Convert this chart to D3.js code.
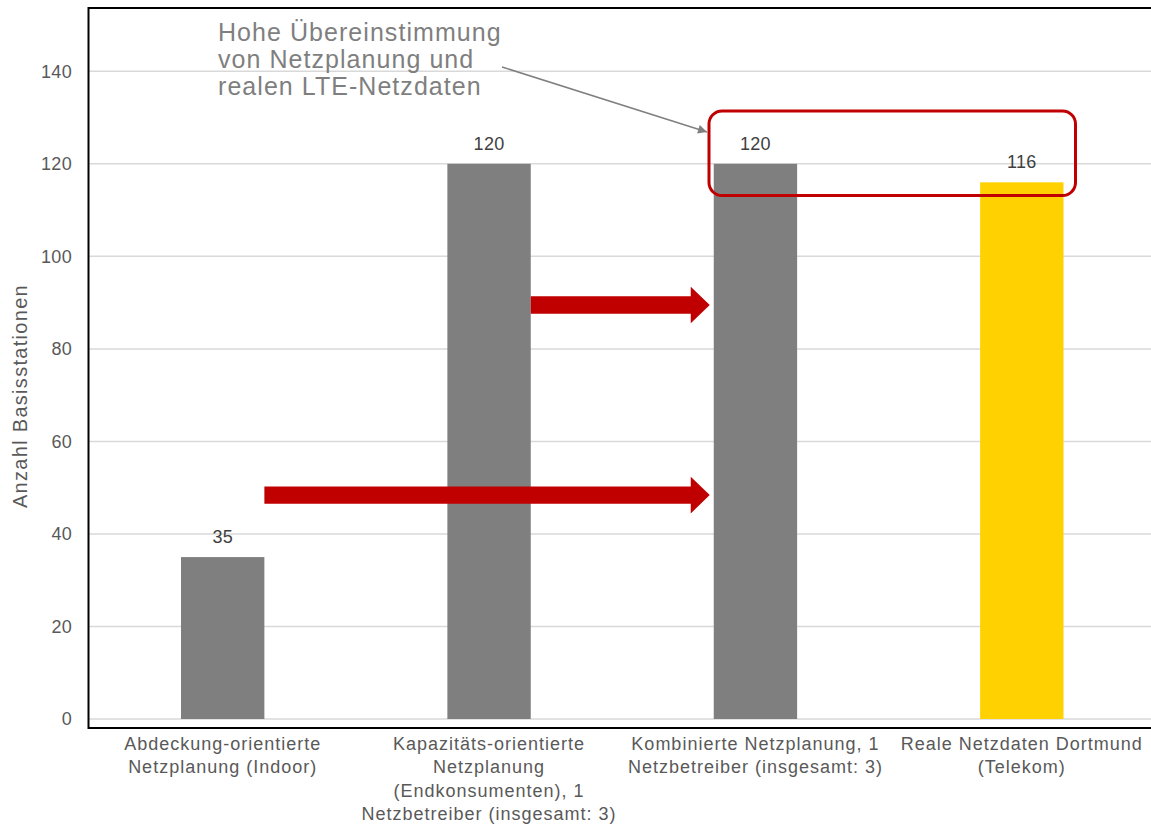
<!DOCTYPE html>
<html>
<head>
<meta charset="utf-8">
<script src="https://cdn.jsdelivr.net/npm/d3@7"></script>
<style>
  html, body { margin: 0; padding: 0; background: #ffffff; }
  svg { display: block; font-family: "Liberation Sans", Arial, sans-serif; }
</style>
</head>
<body>
<svg id="chart" width="1151" height="825"></svg>
<script>
// Base station counts per planning approach
const categories = [
  ["Abdeckung-orientierte", "Netzplanung (Indoor)"],
  ["Kapazitäts-orientierte", "Netzplanung", "(Endkonsumenten), 1", "Netzbetreiber (insgesamt: 3)"],
  ["Kombinierte Netzplanung, 1", "Netzbetreiber (insgesamt: 3)"],
  ["Reale Netzdaten Dortmund", "(Telekom)"]
];
const values = [35, 120, 120, 116];
const barColors = ["#7f7f7f", "#7f7f7f", "#7f7f7f", "#ffd100"];
const yTicks = [0, 20, 40, 60, 80, 100, 120, 140];
const yTitle = "Anzahl Basisstationen";
const calloutLines = ["Hohe Übereinstimmung", "von Netzplanung und", "realen LTE-Netzdaten"];

const svg = d3.select("#chart");

const x = d3.scaleBand()
  .domain(d3.range(values.length))
  .range([89.5, 1155])
  .paddingInner(0.687)
  .paddingOuter(0.3435);

const y = d3.scaleLinear().domain([0, 140]).range([719, 71.3]);

// gridlines
svg.append("g")
  .selectAll("line")
  .data(yTicks)
  .join("line")
  .attr("x1", 89).attr("x2", 1151)
  .attr("y1", d => y(d)).attr("y2", d => y(d))
  .attr("stroke", "#d9d9d9").attr("stroke-width", 1.5);

// y tick labels
svg.append("g")
  .selectAll("text")
  .data(yTicks)
  .join("text")
  .attr("x", 72).attr("y", d => y(d))
  .attr("dy", "0.35em")
  .attr("text-anchor", "end")
  .attr("font-size", 18)
  .attr("letter-spacing", 0.3)
  .attr("fill", "#595959")
  .text(d => d);

// y axis title
svg.append("text")
  .attr("transform", `translate(27, ${396}) rotate(-90)`)
  .attr("text-anchor", "middle")
  .attr("font-size", 20)
  .attr("letter-spacing", 1.3)
  .attr("fill", "#595959")
  .text(yTitle);

// bars
svg.append("g")
  .selectAll("rect")
  .data(values)
  .join("rect")
  .attr("x", (d, i) => x(i))
  .attr("width", x.bandwidth())
  .attr("y", d => y(d))
  .attr("height", d => y(0) - y(d))
  .attr("fill", (d, i) => barColors[i]);

// value labels
svg.append("g")
  .selectAll("text")
  .data(values)
  .join("text")
  .attr("x", (d, i) => x(i) + x.bandwidth() / 2)
  .attr("y", d => y(d) - 14)
  .attr("text-anchor", "middle")
  .attr("font-size", 18)
  .attr("letter-spacing", 0.3)
  .attr("fill", "#404040")
  .text(d => d);

// plot frame
svg.append("path")
  .attr("d", "M1160,8 H88.5 V728 H1160")
  .attr("fill", "none")
  .attr("stroke", "#000")
  .attr("stroke-width", 2);

// category labels
const catG = svg.append("g");
categories.forEach((lines, i) => {
  const t = catG.append("text")
    .attr("x", x(i) + x.bandwidth() / 2)
    .attr("y", 750)
    .attr("text-anchor", "middle")
    .attr("font-size", 18)
    .attr("letter-spacing", 1.0)
    .attr("fill", "#595959");
  lines.forEach((ln, k) => {
    t.append("tspan")
      .attr("x", x(i) + x.bandwidth() / 2)
      .attr("dy", k === 0 ? 0 : 23.3)
      .text(ln);
  });
});

// red block arrows between bars
const blockArrow = (x0, x1, yc) => {
  const body = 8.7, head = 18.3, headLen = 19;
  return `M${x0},${yc - body} H${x1 - headLen} V${yc - head} L${x1},${yc} L${x1 - headLen},${yc + head} V${yc + body} H${x0} Z`;
};
const arrows = [
  { from: 1, to: 2, v: 89.5 },
  { from: 0, to: 2, v: 48.4 }
];
svg.append("g")
  .selectAll("path")
  .data(arrows)
  .join("path")
  .attr("d", a => blockArrow(x(a.from) + x.bandwidth(), x(a.to) - 4, y(a.v)))
  .attr("fill", "#c00000");

// highlight frame around the matching bars
svg.append("rect")
  .attr("x", 709).attr("y", 111)
  .attr("width", 1075.5 - 709).attr("height", 195.5 - 111)
  .attr("rx", 13).attr("ry", 13)
  .attr("fill", "none")
  .attr("stroke", "#c00000")
  .attr("stroke-width", 3);

// callout text
const callout = svg.append("text")
  .attr("x", 218).attr("y", 41)
  .attr("font-size", 25)
  .attr("letter-spacing", 1.05)
  .attr("fill", "#7f7f7f");
calloutLines.forEach((ln, k) => {
  callout.append("tspan").attr("x", 218).attr("dy", k === 0 ? 0 : 27).text(ln);
});

// callout pointer
svg.append("defs").append("marker")
  .attr("id", "tip")
  .attr("viewBox", "0 0 10 10")
  .attr("refX", 10).attr("refY", 5)
  .attr("markerWidth", 13).attr("markerHeight", 9)
  .attr("markerUnits", "userSpaceOnUse")
  .attr("orient", "auto")
  .append("path")
  .attr("d", "M0,0 L10,5 L0,10 Z")
  .attr("fill", "#808080");
svg.append("line")
  .attr("x1", 502).attr("y1", 67)
  .attr("x2", 707).attr("y2", 132)
  .attr("stroke", "#808080")
  .attr("stroke-width", 1.5)
  .attr("marker-end", "url(#tip)");
</script>
</body>
</html>
